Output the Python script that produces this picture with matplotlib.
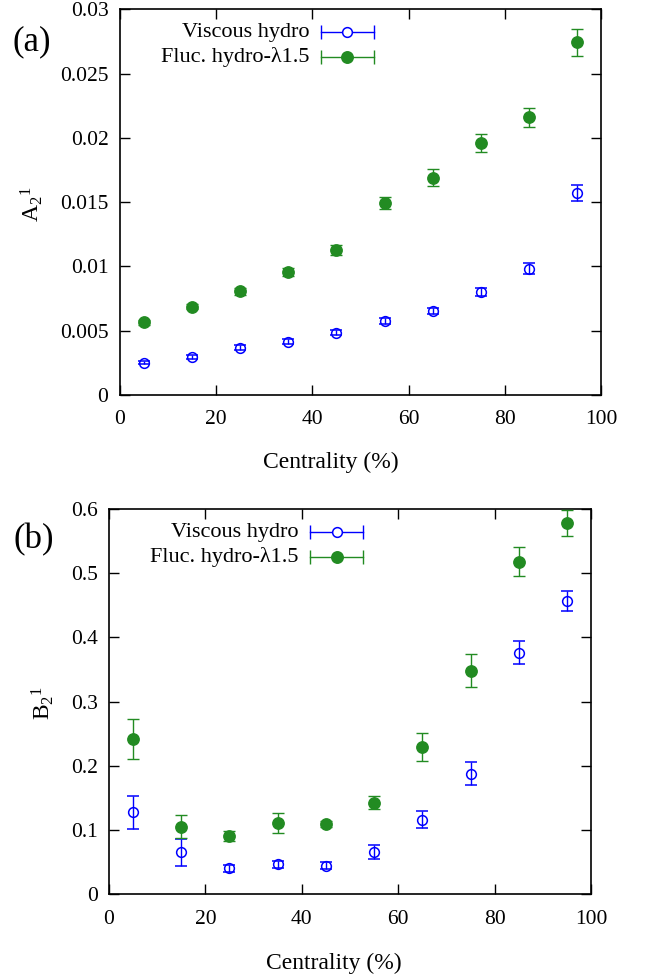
import matplotlib
matplotlib.use("Agg")
import matplotlib.pyplot as plt
import numpy as np

plt.rcParams['font.family'] = ['Liberation Serif', 'DejaVu Serif']
plt.rcParams['mathtext.fontset'] = 'custom'
plt.rcParams['mathtext.rm'] = 'Liberation Serif'
plt.rcParams['mathtext.it'] = 'Liberation Serif:italic'

centrality = [5, 15, 25, 35, 45, 55, 65, 75, 85, 95]

# Panel (a): A_2^1
a_visc = [0.00252, 0.00296, 0.00368, 0.00415, 0.00485, 0.00576, 0.00651, 0.00799, 0.00983, 0.01571]
a_visc_err = [0.00015, 0.00015, 0.0002, 0.0002, 0.0002, 0.00022, 0.00025, 0.0003, 0.00045, 0.00066]
a_fluc = [0.00565, 0.00687, 0.00806, 0.00957, 0.01128, 0.01491, 0.01691, 0.01963, 0.0216, 0.02743]
a_fluc_err = [0.0002, 0.0002, 0.00025, 0.0003, 0.00037, 0.00045, 0.00065, 0.0007, 0.00074, 0.00106]

# Panel (b): B_2^1
b_visc = [0.1277, 0.0654, 0.0405, 0.0467, 0.0446, 0.0664, 0.1163, 0.1879, 0.3763, 0.4567]
b_visc_err = [0.0257, 0.0208, 0.005, 0.006, 0.005, 0.0106, 0.0132, 0.018, 0.0179, 0.0153]
b_fluc = [0.2419, 0.1054, 0.0903, 0.1111, 0.1095, 0.1427, 0.2294, 0.3478, 0.518, 0.5777]
b_fluc_err = [0.0309, 0.0176, 0.008, 0.0158, 0.005, 0.010, 0.0213, 0.0257, 0.0226, 0.0205]

labels = ["Viscous hydro", "Fluc. hydro-\u03bb1.5"]
blue = '#0000ff'
green = '#228b22'

fig = plt.figure(figsize=(6.46, 9.80), dpi=100)
ax1 = fig.add_axes([0.185, 0.597, 0.746, 0.3935])
ax2 = fig.add_axes([0.1687, 0.0874, 0.7462, 0.3932])

TS = 15.5
LS = 16


def panel(ax, visc, verr, fluc, ferr, ylim, yticks, yticklabels, leg_y, leg_x):
    ax.errorbar(centrality, visc, yerr=verr, fmt='o', color=blue, mfc='none', mec=blue,
                ms=7.0, mew=1.1, elinewidth=1.0, capsize=4.5, capthick=1.0, zorder=3)
    ax.errorbar(centrality, fluc, yerr=ferr, fmt='o', color=green, mfc=green, mec=green,
                ms=8.2, elinewidth=1.0, capsize=4.5, capthick=1.0, zorder=3)
    ax.set_xlim(0, 100)
    ax.set_ylim(*ylim)
    ax.set_xticks([0, 20, 40, 60, 80, 100])
    ax.set_xticklabels(['0', '20', '40', '60', '80', '100'])
    ax.set_yticks(yticks)
    ax.set_yticklabels(yticklabels)
    ax.tick_params(direction='in', length=7, width=1.0, top=True, right=True,
                   labelsize=TS, pad=8)
    ax.tick_params(axis='x', pad=11)
    for s in ax.spines.values():
        s.set_linewidth(1.2)
    # legend drawn manually (gnuplot style)
    xl, xm, xr = leg_x
    for (lab, col, filled, ms), yy in zip(
            [(labels[0], blue, False, 7.0), (labels[1], green, True, 8.2)], leg_y):
        ax.text(xl - 0.023, yy, lab, transform=ax.transAxes, ha='right', va='center',
                fontsize=LS)
        ax.plot([xl, xr], [yy, yy], color=col, lw=1.0, transform=ax.transAxes, clip_on=False)
        ax.plot([xl, xr], [yy, yy], ls='none', marker='|', ms=10, mew=1.0, color=col,
                transform=ax.transAxes, clip_on=False)
        ax.plot([xm], [yy], ls='none', marker='o', ms=ms, mew=1.1, color=col,
                mfc=col if filled else 'white', transform=ax.transAxes, clip_on=False)


panel(ax1, a_visc, a_visc_err, a_fluc, a_fluc_err, (0, 0.03),
      [0, 0.005, 0.01, 0.015, 0.02, 0.025, 0.03],
      ['0', '0.005', '0.01', '0.015', '0.02', '0.025', '0.03'],
      [0.941, 0.876], (0.418, 0.472, 0.528))
panel(ax2, b_visc, b_visc_err, b_fluc, b_fluc_err, (0, 0.6),
      [0, 0.1, 0.2, 0.3, 0.4, 0.5, 0.6],
      ['0', '0.1', '0.2', '0.3', '0.4', '0.5', '0.6'],
      [0.940, 0.875], (0.417, 0.472, 0.527))

# axis labels
fig.text(32 / 646, 1 - 204 / 980, r'A$_2$$^1$', rotation=90, ha='center', va='center', fontsize=17)
fig.text(43 / 646, 1 - 703 / 980, r'B$_2$$^1$', rotation=90, ha='center', va='center', fontsize=17)
fig.text(331 / 646, 1 - 462 / 980, 'Centrality (%)', ha='center', va='center', fontsize=17)
fig.text(334 / 646, 1 - 963 / 980, 'Centrality (%)', ha='center', va='center', fontsize=17)
fig.text(32 / 646, 1 - 42 / 980, '(a)', ha='center', va='center', fontsize=25)
fig.text(34 / 646, 1 - 540 / 980, '(b)', ha='center', va='center', fontsize=25)

fig.savefig('out.png', dpi=100)
